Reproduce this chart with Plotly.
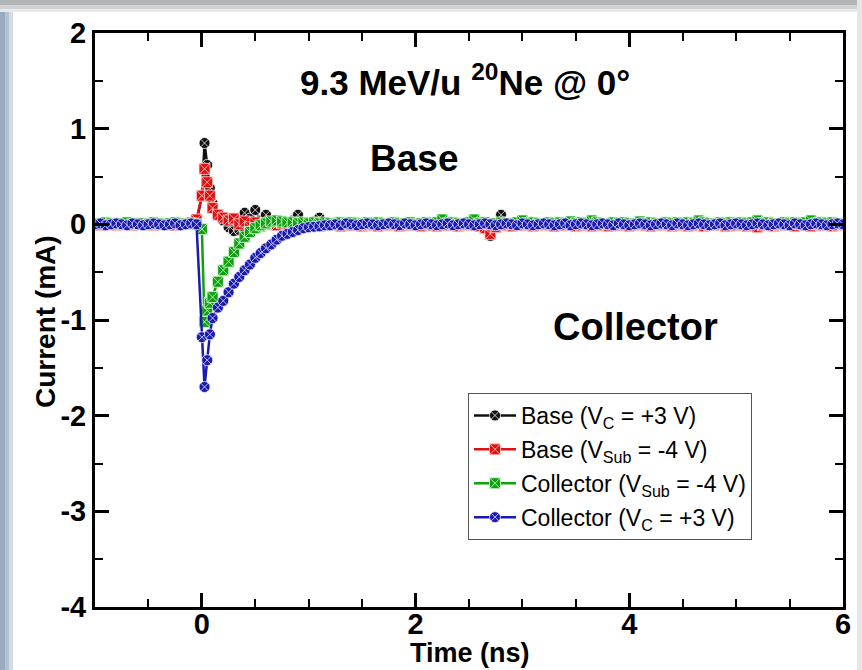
import plotly.graph_objects as go

# ---------------- data ----------------
time_ns = [
    -1.00, -0.95, -0.90, -0.85, -0.80, -0.75, -0.70, -0.65, -0.60, -0.55,
    -0.50, -0.45, -0.40, -0.35, -0.30, -0.25, -0.20, -0.15, -0.10, -0.05,
    0.00, 0.025, 0.05, 0.075,
    0.10, 0.15, 0.20, 0.25, 0.30, 0.35, 0.40, 0.45, 0.50, 0.55,
    0.60, 0.65, 0.70, 0.75, 0.80, 0.85, 0.90, 0.95, 1.00, 1.05,
    1.10, 1.15, 1.20, 1.25, 1.30, 1.35, 1.40, 1.45, 1.50, 1.55,
    1.60, 1.65, 1.70, 1.75, 1.80, 1.85, 1.90, 1.95, 2.00, 2.05,
    2.10, 2.15, 2.20, 2.25, 2.30, 2.35, 2.40, 2.45, 2.50, 2.55,
    2.60, 2.65, 2.70, 2.75, 2.80, 2.85, 2.90, 2.95, 3.00, 3.05,
    3.10, 3.15, 3.20, 3.25, 3.30, 3.35, 3.40, 3.45, 3.50, 3.55,
    3.60, 3.65, 3.70, 3.75, 3.80, 3.85, 3.90, 3.95, 4.00, 4.05,
    4.10, 4.15, 4.20, 4.25, 4.30, 4.35, 4.40, 4.45, 4.50, 4.55,
    4.60, 4.65, 4.70, 4.75, 4.80, 4.85, 4.90, 4.95, 5.00, 5.05,
    5.10, 5.15, 5.20, 5.25, 5.30, 5.35, 5.40, 5.45, 5.50, 5.55,
    5.60, 5.65, 5.70, 5.75, 5.80, 5.85, 5.90, 5.95, 6.00,
]

base_vc = [
    0.01, 0.00, -0.01, 0.01, 0.00, 0.01, -0.01, 0.00, 0.01, 0.00,
    -0.01, 0.00, 0.01, 0.00, -0.01, 0.01, 0.00, 0.00, 0.01, 0.02,
    0.30, 0.85, 0.62, 0.38,
    0.22, 0.10, 0.04, -0.03, -0.07, -0.06, 0.12, 0.06, 0.15, 0.04,
    0.10, 0.01, 0.03, 0.00, 0.02, 0.04, 0.10, 0.02, 0.00, 0.03,
    0.07, 0.01, 0.00, 0.02, -0.01, 0.01, 0.00, 0.02, 0.00, -0.01,
    0.01, 0.00, 0.01, -0.01, 0.00, 0.01, 0.00, -0.01, 0.01, 0.00,
    0.00, 0.01, -0.01, 0.00, 0.01, 0.00, -0.02, 0.00, 0.01, 0.00,
    -0.02, -0.04, -0.12, 0.00, 0.10, 0.01, 0.00, -0.01, 0.01, 0.00,
    -0.01, 0.00, 0.01, 0.00, -0.02, 0.00, 0.01, -0.01, 0.00, 0.01,
    0.00, -0.01, 0.00, 0.01, 0.00, -0.02, 0.00, 0.01, 0.00, -0.01,
    0.01, 0.00, -0.01, 0.00, 0.01, 0.00, -0.01, 0.00, 0.01, 0.00,
    -0.01, 0.00, 0.01, 0.00, -0.01, 0.01, 0.00, -0.02, 0.00, 0.01,
    0.00, -0.01, 0.01, 0.00, -0.01, 0.00, 0.01, 0.00, -0.01, 0.00,
    0.01, 0.00, -0.01, 0.00, 0.01, -0.01, 0.00, 0.01, 0.00,
]

base_vsub = [
    0.00, -0.01, 0.00, 0.01, -0.01, 0.00, 0.00, -0.01, 0.01, 0.00,
    0.00, -0.01, 0.00, 0.01, 0.00, -0.01, 0.00, 0.01, 0.02, 0.05,
    0.30, 0.58, 0.44, 0.30,
    0.17, 0.10, 0.07, 0.04, 0.06, 0.00, 0.03, -0.03, 0.02, -0.02,
    0.01, 0.00, -0.01, 0.01, 0.00, -0.02, 0.00, 0.01, -0.01, 0.00,
    -0.02, 0.00, -0.01, 0.00, -0.02, 0.00, -0.01, 0.00, -0.02, -0.01,
    0.00, -0.02, 0.00, -0.01, 0.00, -0.02, -0.01, 0.00, -0.01, -0.02,
    0.00, -0.01, -0.02, 0.00, -0.01, 0.00, -0.02, -0.01, 0.00, -0.01,
    -0.02, -0.04, -0.10, -0.03, 0.00, -0.01, -0.02, 0.00, -0.01, 0.00,
    -0.02, -0.01, 0.00, -0.01, -0.02, 0.00, -0.01, 0.00, -0.02, -0.01,
    0.00, -0.02, 0.00, -0.01, -0.02, 0.00, -0.01, 0.00, -0.02, -0.01,
    0.00, -0.01, -0.02, 0.00, -0.01, 0.00, -0.02, -0.01, 0.00, -0.02,
    -0.01, 0.00, -0.02, -0.01, 0.00, -0.01, -0.02, 0.00, -0.01, 0.00,
    -0.02, -0.01, -0.03, -0.01, 0.00, -0.02, -0.01, 0.00, -0.01, -0.02,
    0.00, -0.01, -0.02, 0.00, -0.01, 0.00, -0.02, -0.01, 0.00,
]

coll_vsub = [
    0.01, 0.00, 0.02, 0.01, 0.00, 0.01, 0.02, 0.00, 0.01, 0.01,
    0.00, 0.02, 0.01, 0.00, 0.01, 0.02, 0.01, 0.00, 0.01, 0.00,
    -0.05, -1.02, -0.90, -0.82,
    -0.76, -0.60, -0.48, -0.39, -0.29, -0.20, -0.13, -0.08, -0.04, -0.01,
    0.01, 0.03, 0.04, 0.03, 0.02, 0.02, 0.01, 0.02, 0.01, 0.02,
    0.01, 0.02, 0.01, 0.00, 0.02, 0.01, 0.02, 0.01, 0.00, 0.02,
    0.01, 0.02, 0.01, 0.00, 0.02, 0.01, 0.01, 0.02, 0.00, 0.01,
    0.02, 0.01, 0.02, 0.05, 0.01, 0.02, 0.01, 0.00, 0.02, 0.05,
    0.01, 0.02, 0.00, 0.01, 0.02, 0.01, 0.00, 0.02, 0.04, 0.01,
    0.02, 0.01, 0.00, 0.02, 0.01, 0.02, 0.01, 0.03, 0.01, 0.02,
    0.01, 0.04, 0.02, 0.01, 0.00, 0.02, 0.01, 0.02, 0.01, 0.00,
    0.03, 0.01, 0.02, 0.01, 0.00, 0.02, 0.01, 0.02, 0.01, 0.02,
    0.01, 0.04, 0.02, 0.01, 0.00, 0.02, 0.01, 0.02, 0.01, 0.02,
    0.01, 0.02, 0.04, 0.01, 0.02, 0.01, 0.00, 0.02, 0.01, 0.02,
    0.01, 0.02, 0.04, 0.01, 0.02, 0.01, 0.02, 0.01, 0.00,
]

coll_vc = [
    0.00, 0.01, -0.01, 0.00, 0.01, 0.00, -0.01, 0.01, 0.00, -0.01,
    0.00, 0.01, 0.00, -0.01, 0.00, 0.01, -0.01, 0.00, 0.01, 0.00,
    -1.18, -1.70, -1.42, -1.15,
    -0.98, -0.87, -0.80, -0.71, -0.62, -0.55, -0.48, -0.42, -0.35, -0.30,
    -0.25, -0.21, -0.16, -0.12, -0.10, -0.08, -0.06, -0.04, -0.03, -0.025,
    -0.02, -0.01, -0.01, 0.00, -0.01, 0.01, 0.00, -0.01, 0.00, 0.01,
    0.00, -0.01, 0.00, 0.01, 0.00, -0.01, 0.01, 0.00, -0.01, 0.00,
    0.01, 0.00, -0.01, 0.00, 0.01, -0.01, 0.00, 0.01, 0.00, -0.01,
    0.00, 0.01, 0.00, -0.01, 0.00, 0.01, 0.00, -0.01, 0.01, 0.00,
    -0.01, 0.00, 0.01, 0.00, -0.01, 0.00, 0.01, -0.01, 0.00, 0.01,
    0.00, -0.01, 0.00, 0.01, 0.00, -0.01, 0.01, 0.00, -0.01, 0.00,
    0.01, 0.00, -0.01, 0.00, 0.01, 0.00, -0.01, 0.01, 0.00, -0.01,
    0.00, 0.01, 0.00, -0.01, 0.00, 0.01, -0.01, 0.00, 0.01, 0.00,
    -0.01, 0.00, 0.01, 0.00, -0.01, 0.00, 0.01, 0.00, -0.01, 0.01,
    0.00, -0.01, 0.00, 0.01, 0.00, -0.01, 0.00, 0.01, 0.00,
]

series_names = [
    "Base (V<sub>C</sub> = +3 V)",
    "Base (V<sub>Sub</sub> = -4 V)",
    "Collector (V<sub>Sub</sub> = -4 V)",
    "Collector (V<sub>C</sub> = +3 V)",
]
x_tick_vals = [0, 2, 4, 6]
x_tick_text = ["0", "2", "4", "6"]
y_tick_vals = [-4, -3, -2, -1, 0, 1, 2]
y_tick_text = ["-4", "-3", "-2", "-1", "0", "1", "2"]

# ---------------- styling ----------------
series_values = [base_vc, base_vsub, coll_vsub, coll_vc]
colors = ["#111111", "#e01010", "#10a010", "#1a1ab0"]
edge = ["rgba(255,255,255,0.75)", "rgba(255,220,220,0.8)",
        "rgba(220,255,220,0.8)", "rgba(230,230,255,0.8)"]
symbols = ["circle-x", "square-x", "square-x", "circle-x"]

fig = go.Figure()
for i, (name, vals) in enumerate(zip(series_names, series_values)):
    fig.add_trace(go.Scatter(
        x=time_ns, y=vals, name=name, mode="lines+markers",
        legendgroup=f"g{i}",
        line=dict(color=colors[i], width=2.5),
        marker=dict(symbol=symbols[i], size=11, color=colors[i],
                    line=dict(color=edge[i], width=1)),
    ))

L, R, T, B = 95, 19, 33, 63
W, H = 862, 670
pw, ph = W - L - R, H - T - B


def px_x(px):
    return (px - L) / pw


def px_y(py):
    return (H - B - py) / ph


shapes = []
# screenshot-like frame
for (x0, x1, col) in [(0, 5, "#98abbf"), (5, 9, "#b4c2d1"), (9, 13, "#d3dce5")]:
    shapes.append(dict(type="rect", xref="paper", yref="paper",
                       x0=px_x(x0), x1=px_x(x1), y0=px_y(H), y1=px_y(0),
                       fillcolor=col, line=dict(width=0)))
for (y0, y1, col) in [(0, 5, "#b3b6b9"), (5, 9, "#cfd1d3"), (9, 12, "#e8e9ea")]:
    shapes.append(dict(type="rect", xref="paper", yref="paper",
                       x0=px_x(0), x1=px_x(W), y0=px_y(y1), y1=px_y(y0),
                       fillcolor=col, line=dict(width=0)))
shapes.append(dict(type="rect", xref="paper", yref="paper",
                   x0=px_x(857), x1=px_x(W), y0=px_y(H), y1=px_y(0),
                   fillcolor="#e4e6e8", line=dict(width=0)))

bold = "Liberation Sans"
narrow = "Liberation Sans Narrow, Liberation Sans, Arial"


def note(text, cx, cy, size, family=bold, angle=0):
    return dict(text=text, x=px_x(cx), y=px_y(cy), xref="paper", yref="paper",
                xanchor="center", yanchor="middle", showarrow=False,
                textangle=angle,
                font=dict(family=family, size=size, color="black", weight="bold"))


annotations = [
    note("9.3 MeV/u <sup>20</sup>Ne @ 0°", 465, 80, 35),
    note("Base", 414, 158, 37),
    note("Collector", 635, 327, 38),
    note("Current (mA)", 45, 322, 28, family=narrow, angle=-90),
    note("Time (ns)", 470, 653, 27, family=narrow),
]

axis_common = dict(
    tickmode="array", ticks="inside", ticklen=14, tickwidth=2.5, tickcolor="black",
    showline=True, linewidth=3, linecolor="black", mirror="ticks",
    showgrid=False, zeroline=False, automargin=False,
    minor=dict(ticks="inside", ticklen=8, tickwidth=2, tickcolor="black",
               tickmode="linear", tick0=0, dtick=0.5, showgrid=False),
    tickfont=dict(family=narrow, size=29, color="black", weight="bold"),
)

fig.update_layout(
    width=W, height=H,
    margin=dict(l=L, r=R, t=T, b=B),
    paper_bgcolor="white", plot_bgcolor="white",
    shapes=shapes, annotations=annotations,
    legend=dict(x=px_x(468), y=px_y(393), xanchor="left", yanchor="top",
                bgcolor="white", bordercolor="#555555", borderwidth=1,
                font=dict(family="Liberation Sans", size=23, color="black"),
                itemwidth=42, tracegroupgap=1),
    xaxis=dict(range=[-1, 6], tickvals=x_tick_vals, ticktext=x_tick_text,
               ticklabelstandoff=-11, **axis_common),
    yaxis=dict(range=[-4, 2], tickvals=y_tick_vals, ticktext=y_tick_text, **axis_common),
)

fig.write_html("out.html", config={"displayModeBar": False},
               post_script="document.body.style.margin='0';document.body.style.padding='0';")
